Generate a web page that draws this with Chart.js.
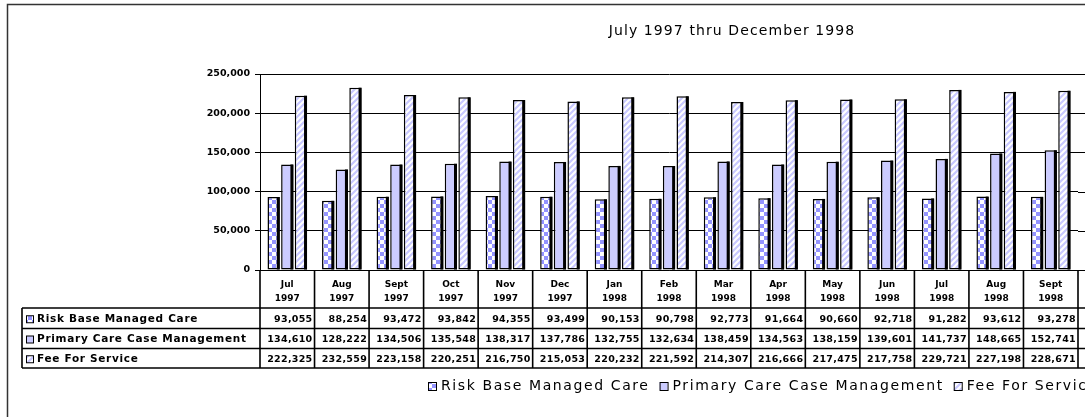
<!DOCTYPE html>
<html>
<head>
<meta charset="utf-8">
<script src="https://cdn.jsdelivr.net/npm/chart.js@4/dist/chart.umd.min.js"></script>
<style>
  html, body { margin: 0; padding: 0; background: #fff; overflow: hidden; }
  #wrap { position: relative; width: 1085px; height: 417px; }
</style>
</head>
<body>
<div id="wrap"><canvas id="chart"></canvas></div>
<script>
// Chart data
const months = ['Jul', 'Aug', 'Sept', 'Oct', 'Nov', 'Dec', 'Jan', 'Feb', 'Mar', 'Apr', 'May', 'Jun', 'Jul', 'Aug', 'Sept'];
const years = ['1997', '1997', '1997', '1997', '1997', '1997', '1998', '1998', '1998', '1998', '1998', '1998', '1998', '1998', '1998'];
const seriesNames = ['Risk Base Managed Care', 'Primary Care Case Management', 'Fee For Service'];
const riskBase = [93055, 88254, 93472, 93842, 94355, 93499, 90153, 90798, 92773, 91664, 90660, 92718, 91282, 93612, 93278];
const primaryCare = [134610, 128222, 134506, 135548, 138317, 137786, 132755, 132634, 138459, 134563, 138159, 139601, 141737, 148665, 152741];
const feeForService = [222325, 232559, 223158, 220251, 216750, 215053, 220232, 221592, 214307, 216666, 217475, 217758, 229721, 227198, 228671];
const yTicks = [0, 50000, 100000, 150000, 200000, 250000];
const titleText = 'July 1997 thru December 1998';

const FONT = '"DejaVu Sans", "Liberation Sans", Arial, sans-serif';

// fill patterns like the old spreadsheet chart
function checkerPattern() {
  const c = document.createElement('canvas');
  c.width = 8; c.height = 8;
  const g = c.getContext('2d');
  g.fillStyle = '#ffffff';
  g.fillRect(0, 0, 8, 8);
  g.fillStyle = '#9494ff';
  g.fillRect(0, 0, 4, 4);
  g.fillRect(4, 4, 4, 4);
  return g.createPattern(c, 'repeat');
}

function stripePattern() {
  const c = document.createElement('canvas');
  c.width = 6; c.height = 6;
  const g = c.getContext('2d');
  g.fillStyle = '#ffffff';
  g.fillRect(0, 0, 6, 6);
  g.strokeStyle = '#c8c8ff';
  g.lineWidth = 2.2;
  g.beginPath();
  g.moveTo(-1, 1); g.lineTo(1, -1);
  g.moveTo(0, 6); g.lineTo(6, 0);
  g.moveTo(5, 7); g.lineTo(7, 5);
  g.stroke();
  return g.createPattern(c, 'repeat');
}

const fills = [checkerPattern(), '#ccccff', stripePattern()];
const seriesData = [riskBase, primaryCare, feeForService];

// layout of the data table below the plot
const tableLeft = 22;
const rowTops = [308, 328.5, 348.5, 368];

// bars get a dark right side, like the 3D columns
const barShade = {
  id: 'barShade',
  afterDatasetsDraw(chart) {
    const ctx = chart.ctx;
    ctx.save();
    ctx.fillStyle = '#000';
    chart.data.datasets.forEach((ds, i) => {
      chart.getDatasetMeta(i).data.forEach(bar => {
        const p = bar.getProps(['x', 'y', 'base', 'width'], true);
        ctx.fillRect(p.x + p.width / 2 - 3, p.y, 3, p.base - p.y);
      });
    });
    ctx.restore();
  }
};

// title, data table, legend and frame
const extras = {
  id: 'extras',
  afterDraw(chart) {
    const ctx = chart.ctx;
    const area = chart.chartArea;
    const xs = chart.scales.x;
    const ys = chart.scales.y;
    const W = chart.width;
    ctx.save();

    // outer frame (cut at the right and bottom)
    ctx.strokeStyle = '#333';
    ctx.lineWidth = 1.5;
    ctx.beginPath();
    ctx.moveTo(7.5, chart.height);
    ctx.lineTo(7.5, 4.5);
    ctx.lineTo(W, 4.5);
    ctx.stroke();

    // title
    ctx.fillStyle = '#000';
    ctx.font = '14px ' + FONT;
    ctx.letterSpacing = '1.1px';
    ctx.textAlign = 'center';
    ctx.textBaseline = 'middle';
    ctx.fillText(titleText, 732, 31);
    ctx.letterSpacing = '0px';

    // gridlines run on past the last category
    ctx.strokeStyle = '#000';
    ctx.lineWidth = 1;
    ys.ticks.forEach(t => {
      const y = Math.round(ys.getPixelForValue(t.value)) + 0.5;
      ctx.beginPath();
      ctx.moveTo(area.right, y);
      ctx.lineTo(W, y);
      ctx.stroke();
    });

    // data table lines
    const half = (xs.getPixelForValue(1) - xs.getPixelForValue(0)) / 2;
    ctx.lineWidth = 1.6;
    ctx.beginPath();
    rowTops.forEach(y => {
      ctx.moveTo(tableLeft, y);
      ctx.lineTo(W, y);
    });
    ctx.moveTo(tableLeft, rowTops[0]);
    ctx.lineTo(tableLeft, rowTops[rowTops.length - 1]);
    ctx.moveTo(area.left, area.bottom);
    ctx.lineTo(area.left, rowTops[rowTops.length - 1]);
    for (let i = 0; i < months.length; i++) {
      const x = xs.getPixelForValue(i) + half;
      ctx.moveTo(x, area.bottom);
      ctx.lineTo(x, rowTops[rowTops.length - 1]);
    }
    ctx.stroke();

    // row labels with their keys, and the values
    ctx.textBaseline = 'middle';
    seriesData.forEach((vals, r) => {
      const yc = (rowTops[r] + rowTops[r + 1]) / 2 + 1;
      ctx.fillStyle = fills[r];
      ctx.fillRect(26, yc - 3.5, 7, 7);
      ctx.strokeStyle = '#000';
      ctx.lineWidth = 1;
      ctx.strokeRect(26.5, yc - 3.5, 7, 7);
      ctx.fillStyle = '#000';
      ctx.font = 'bold 10.5px ' + FONT;
      ctx.letterSpacing = '0.7px';
      ctx.textAlign = 'left';
      ctx.fillText(seriesNames[r], 37, yc);
      ctx.font = 'bold 9.5px ' + FONT;
      ctx.letterSpacing = '0.3px';
      ctx.textAlign = 'right';
      vals.forEach((v, i) => {
        ctx.fillText(v.toLocaleString('en-US'), xs.getPixelForValue(i) + half - 2, yc);
      });
    });

    // legend, running off the right edge like the reference
    ctx.font = '14px ' + FONT;
    ctx.letterSpacing = '1.6px';
    ctx.textAlign = 'left';
    let lx = 428;
    const ly = 386;
    seriesNames.forEach((name, r) => {
      ctx.fillStyle = fills[r];
      ctx.fillRect(lx, ly - 4, 8, 8);
      ctx.strokeStyle = '#000';
      ctx.lineWidth = 1;
      ctx.strokeRect(lx + 0.5, ly - 3.5, 8, 8);
      ctx.fillStyle = '#000';
      ctx.fillText(name, lx + 13, ly);
      lx += 13 + ctx.measureText(name).width + 10;
    });
    ctx.letterSpacing = '0px';

    ctx.restore();
  }
};

const ctx = document.getElementById('chart').getContext('2d');
new Chart(ctx, {
  type: 'bar',
  data: {
    labels: months.map((m, i) => [m, years[i]]),
    datasets: seriesNames.map((name, i) => ({
      label: name,
      data: seriesData[i],
      backgroundColor: fills[i],
      borderColor: '#000',
      borderWidth: 1.5,
      borderSkipped: false,
      categoryPercentage: 0.75,
      barPercentage: 0.9
    }))
  },
  options: {
    responsive: true,
    maintainAspectRatio: false,
    animation: false,
    layout: { padding: { top: 74, right: 7, bottom: 109, left: 0 } },
    plugins: {
      legend: { display: false },
      title: { display: false },
      tooltip: { enabled: false }
    },
    scales: {
      x: {
        grid: { display: false, drawTicks: false },
        border: { display: true, color: '#000', width: 1 },
        ticks: {
          color: '#000',
          font: { family: FONT, size: 9, weight: 'bold', lineHeight: 1.5 },
          padding: 8,
          maxRotation: 0,
          autoSkip: false
        },
        afterFit(s) { s.height = 38; }
      },
      y: {
        min: 0,
        max: 250000,
        afterBuildTicks(s) { s.ticks = yTicks.map(v => ({ value: v })); },
        grid: { color: '#000', lineWidth: 1, tickLength: 5, drawTicks: true },
        border: { display: true, color: '#000', width: 1 },
        ticks: {
          color: '#000',
          font: { family: FONT, size: 9.5, weight: 'bold' },
          padding: 5,
          callback: v => v.toLocaleString('en-US')
        },
        afterFit(s) { s.width = 260; }
      }
    }
  },
  plugins: [barShade, extras]
});
</script>
</body>
</html>
